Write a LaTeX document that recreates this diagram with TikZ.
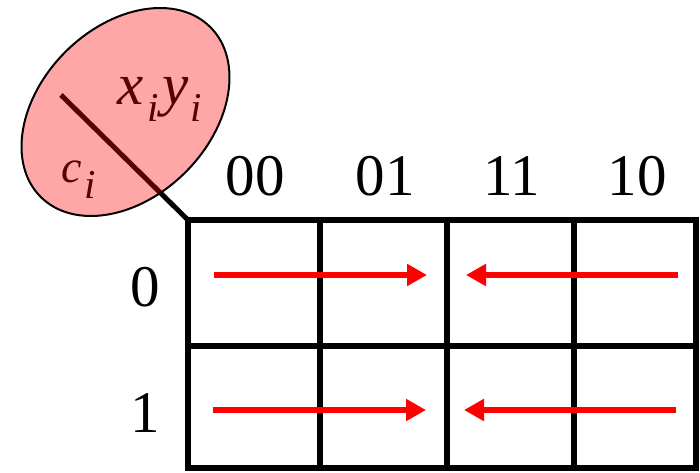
\documentclass[tikz,border=0pt]{standalone}
\usepackage{fontspec}
\setmainfont{Liberation Serif}
\usetikzlibrary{arrows.meta}
\newcommand{\bigfont}{\fontsize{59}{60}\selectfont}
\newcommand{\subfont}{\fontsize{41}{42}\selectfont}
\begin{document}
\begin{tikzpicture}[x=1pt,y=1pt,
  gridline/.style={line width=6pt, line join=miter},
  redarrow/.style={red, line width=6pt, -{Triangle[length=20pt,width=21pt]}},
  lab/.style={inner sep=0pt, anchor=base, font=\bigfont}]
\useasboundingbox (0,0) rectangle (700,472);
% grid coordinates
\coordinate (tl) at (188,252);
\coordinate (br) at (696,4);
\coordinate (c1t) at (320,252); \coordinate (c1b) at (320,4);
\coordinate (c2t) at (447,252); \coordinate (c2b) at (447,4);
\coordinate (c3t) at (574,252); \coordinate (c3b) at (574,4);
\coordinate (ml) at (188,126.5); \coordinate (mr) at (696,126.5);
\draw[gridline] (tl) rectangle (br);
\draw[gridline] (c1t) -- (c1b);
\draw[gridline] (c2t) -- (c2b);
\draw[gridline] (c3t) -- (c3b);
\draw[gridline] (ml) -- (mr);
% labels
\node[lab] (h00) at (255,277) {00};
\node[lab] (h01) at (385,277) {01};
\node[lab] (h11) at (512,277) {11};
\node[lab] (h10) at (637,277) {10};
\node[lab] (r0) at (145,166) {0};
\node[lab] (r1) at (145,40) {1};
% arrows
\coordinate (a1s) at (214,197); \coordinate (a1e) at (427,197);
\coordinate (a2s) at (678,197); \coordinate (a2e) at (466,197);
\coordinate (a3s) at (213,62); \coordinate (a3e) at (426,62);
\coordinate (a4s) at (676,62); \coordinate (a4e) at (464,62);
\draw[redarrow] (a1s) -- (a1e);
\draw[redarrow] (a2s) -- (a2e);
\draw[redarrow] (a3s) -- (a3e);
\draw[redarrow] (a4s) -- (a4e);
% corner diagonal and variable labels
\coordinate (d0) at (61,377);
\draw[line width=5pt] (d0) -- (tl);
\node[inner sep=0pt, anchor=base west, font=\bigfont] (xy) at (117,367)
  {\textit{x}\kern4pt\raisebox{-17pt}{\subfont\textit{i}}\kern4pt\textit{y}\kern2pt\raisebox{-17pt}{\subfont\textit{i}}};
\node[inner sep=0pt, anchor=base west, font=\fontsize{46}{46}\selectfont] (ci) at (61,290)
  {\textit{c}\kern3pt\raisebox{-16pt}{\subfont\textit{i}}};
% ellipse
\coordinate (ec) at (125.5,360);
\fill[red, fill opacity=0.35, rotate around={45:(ec)}] (ec) ellipse [x radius=120, y radius=85];
\draw[line width=2pt, rotate around={45:(ec)}] (ec) ellipse [x radius=120, y radius=85];
\end{tikzpicture}
\end{document}
